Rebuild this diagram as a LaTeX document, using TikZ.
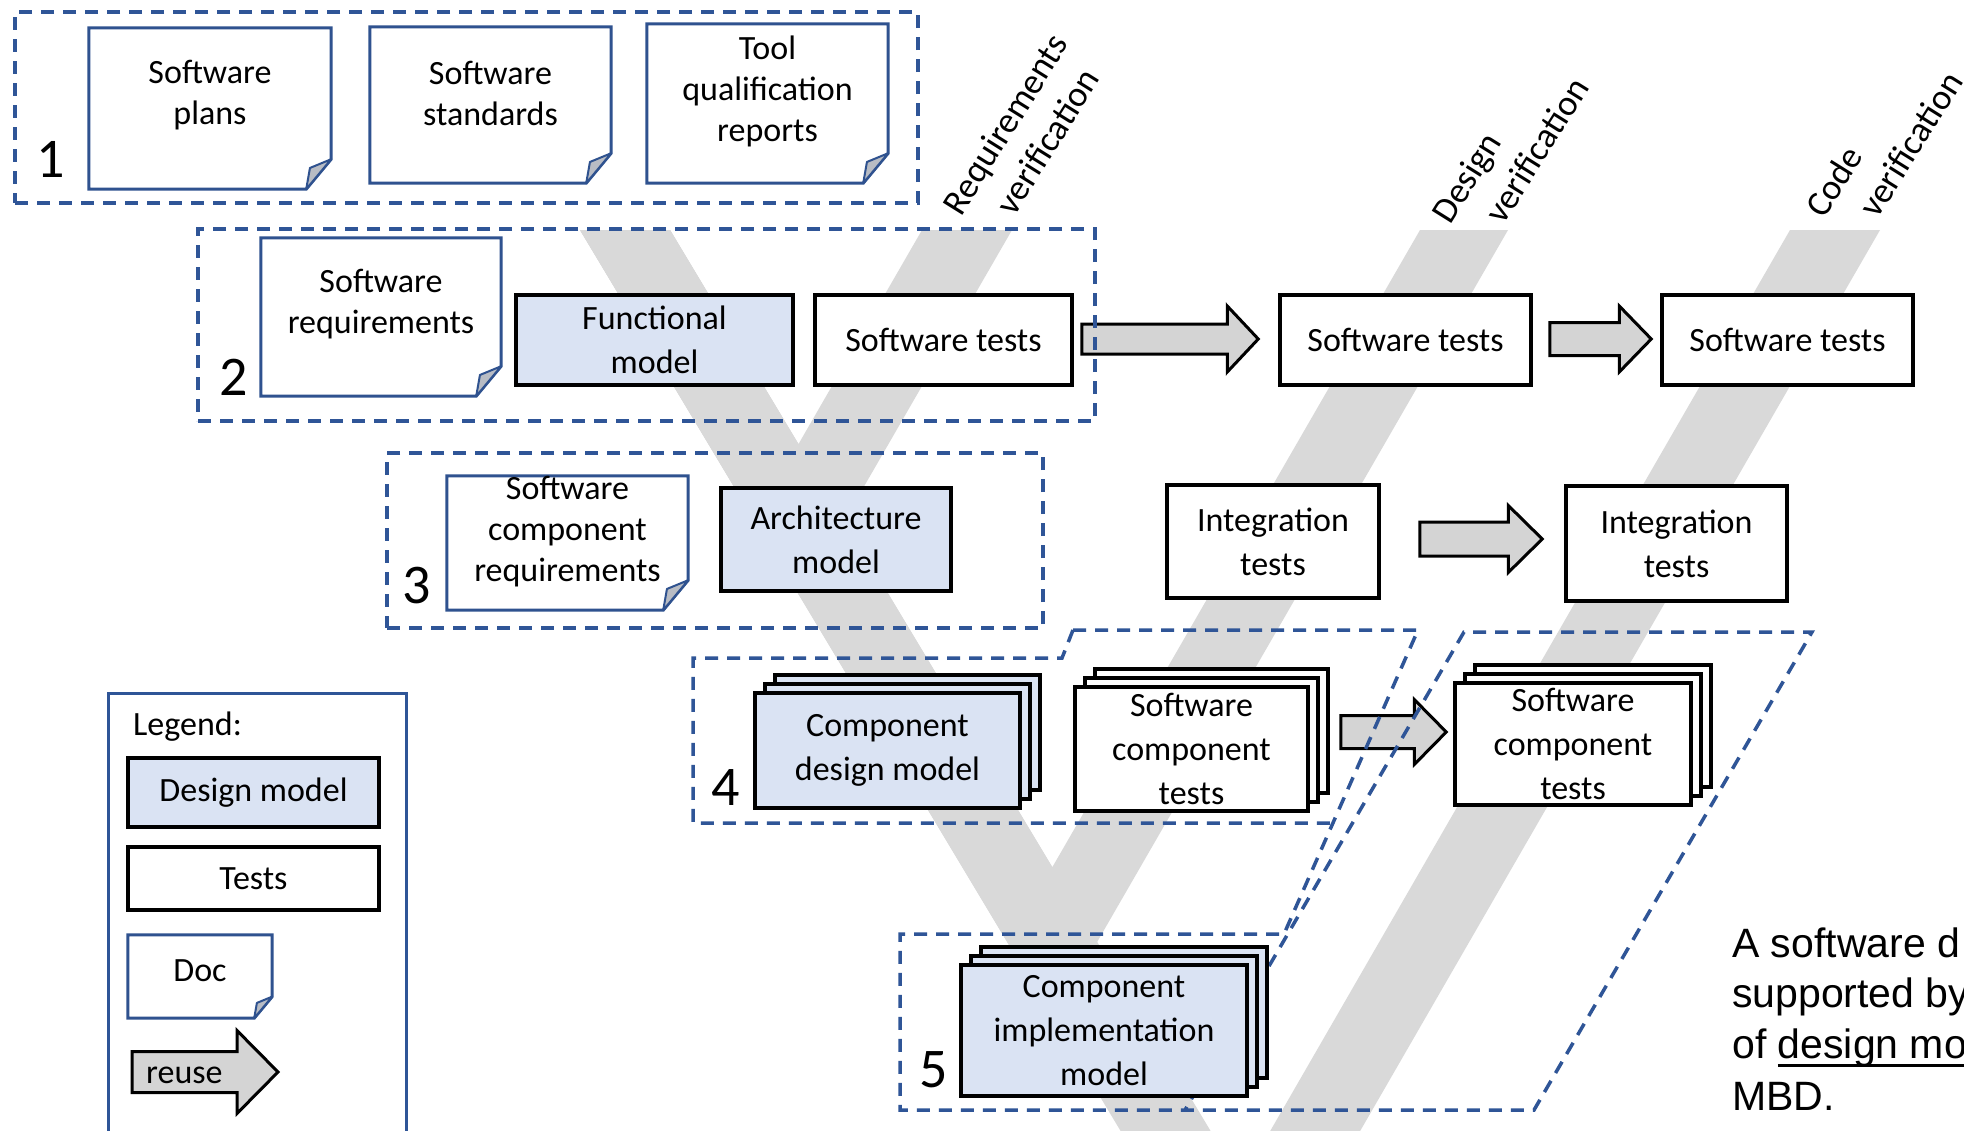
\documentclass[tikz,border=0pt]{standalone}
\usepackage{fontspec}
\setmainfont{Carlito}
\newfontfamily\arialf{Liberation Sans}
\usetikzlibrary{calc}
\pgfdeclarelayer{bg}
\pgfdeclarelayer{mid}
\pgfsetlayers{bg,mid,main}
\definecolor{dashblue}{HTML}{2F5597}
\definecolor{docblue}{HTML}{2F528F}
\definecolor{modelfill}{HTML}{DAE3F3}
\definecolor{bandgray}{HTML}{D9D9D9}
\definecolor{arrowfill}{HTML}{D4D4D4}
\definecolor{foldfill}{HTML}{B8BCC4}

\newsavebox{\ulbox}
\newcommand{\myul}[1]{\sbox{\ulbox}{#1}\rlap{\usebox{\ulbox}}\rule[-8.5pt]{\wd\ulbox}{3pt}}

\tikzset{
 boxtext/.style={font=\fontsize{34}{44}\selectfont, align=center},
 modelbox/.style={draw=black, line width=3.5pt, fill=modelfill, inner sep=0pt, boxtext},
 testbox/.style={draw=black, line width=3.5pt, fill=white, inner sep=0pt, boxtext},
 docarea/.style={inner sep=0pt},
 docline/.style={draw=docblue, line width=3pt, fill=white, line join=miter},
 foldstyle/.style={draw=docblue, line width=2pt, fill=foldfill, line join=round},
 doctext/.style={font=\fontsize{34}{41}\selectfont, align=center, inner sep=0pt},
 groupline/.style={draw=dashblue, line width=3.5pt, dash pattern=on 13pt off 9pt},
 legendbox/.style={draw=dashblue, line width=3pt},
 band/.style={fill=bandgray, draw=none},
 reusearrow/.style={draw=black, line width=3pt, fill=arrowfill, line join=miter},
 numlabel/.style={font=\fontsize{56}{60}\selectfont, inner sep=0pt, anchor=base},
 vlabel/.style={font=\fontsize{36}{45}\selectfont, align=left, rotate=58, inner sep=0pt},
 captext/.style={font=\arialf\fontsize{41}{51}\selectfont, anchor=base west, inner sep=0pt},
 plaintext/.style={font=\fontsize{34}{41}\selectfont, inner sep=0pt},
}

% name, x1, y1, x2, y2, text, fold, text lift
\newcommand{\docnode}[8]{%
 \node[docarea, minimum width={(#4-#2)*1pt}, minimum height={(#5-#3)*1pt}] (#1) at ({(#2+#4)/2},{(#3+#5)/2}) {};
 \draw[docline] (#1.north west) -- (#1.north east) -- ([yshift={1.2*#7pt}]#1.south east) -- ([xshift=-#7pt]#1.south east) -- (#1.south west) -- cycle;
 \draw[foldstyle] ([yshift={1.2*#7pt}]#1.south east) -- ([xshift=-#7pt]#1.south east) -- ([xshift={-0.85*#7pt},yshift={0.85*#7pt}]#1.south east) -- cycle;
 \node[doctext] (#1-t) at ([yshift=#8pt]#1.center) {#6};
}

% name, style, cx, cy, w, h, text
\newcommand{\stacknode}[7]{%
 \node[#2, minimum width=#5pt, minimum height=#6pt] (#1-b2) at ({#3+20},{#4-18}) {};
 \node[#2, minimum width=#5pt, minimum height=#6pt] (#1-b1) at ({#3+10},{#4-9}) {};
 \node[#2, minimum width=#5pt, minimum height=#6pt] (#1) at (#3,#4) {#7};
}

% from, to, body half height, head half height, head length
\newcommand{\blockarrow}[5]{%
 \draw[reusearrow] let \p1=(#1), \p2=(#2) in
  (\x1,\y1+#3pt) -- (\x2-#5pt,\y1+#3pt) -- (\x2-#5pt,\y1+#4pt) -- (\x2,\y1) -- (\x2-#5pt,\y1-#4pt) -- (\x2-#5pt,\y1-#3pt) -- (\x1,\y1-#3pt) -- cycle;}

\begin{document}
\begin{tikzpicture}[x=1pt,y=-1pt]
\useasboundingbox (0,0) rectangle (1964,1130);

\begin{pgfonlayer}{bg}
\fill[white] (0,0) rectangle (1964,1130);
\fill[band] (580,230) -- (670,230) -- (798.4,444.2) -- (922,230) -- (1012,230) -- (800.2,597) -- cycle;
\fill[band] (580,230) -- (670,230) -- (1052.3,867.2) -- (1420,230) -- (1508,230) -- (1053,1018.4) -- cycle;
\fill[band] (580,230) -- (670,230) -- (1241,1181.6) -- (1790,230) -- (1880,230) -- (1242.7,1334.5) -- cycle;
\end{pgfonlayer}

% ---------- documents ----------
\docnode{plans}{89}{28}{331}{189}{Software\\plans}{25}{13}
\docnode{standards}{370}{27}{611}{183}{Software\\standards}{25}{12}
\docnode{toolq}{647}{24}{888}{183}{Tool\\qualification\\reports}{25}{12}
\docnode{swreq}{261}{238}{501}{396}{Software\\requirements}{25}{13}
\docnode{scr}{447}{476}{688}{610}{Software\\component\\requirements}{25}{11}

% ---------- models and tests ----------
\node[modelbox, minimum width=277pt, minimum height=90pt] (fm) at (654.5,340) {Functional\\model};
\node[testbox, minimum width=257pt, minimum height=90pt] (st1) at (943.5,340) {Software tests};
\node[testbox, minimum width=251pt, minimum height=90pt] (st2) at (1405.5,340) {Software tests};
\node[testbox, minimum width=251pt, minimum height=90pt] (st3) at (1787.5,340) {Software tests};
\node[modelbox, minimum width=230pt, minimum height=103pt] (arch) at (836,539.5) {Architecture\\model};
\node[testbox, minimum width=212pt, minimum height=113pt] (it1) at (1273,541.5) {Integration\\tests};
\node[testbox, minimum width=221pt, minimum height=115pt] (it2) at (1676.5,543.5) {Integration\\tests};
\stacknode{cdm}{modelbox}{887.5}{750.5}{265}{115}{Component\\design model}
\stacknode{sct1}{testbox}{1191.5}{749}{233}{124}{Software\\component\\tests}
\stacknode{sct2}{testbox}{1573}{744}{236}{122}{Software\\component\\tests}
\stacknode{cim}{modelbox}{1104}{1030.5}{286}{131}{Component\\implementation\\model}

% ---------- level numbers ----------
\node[numlabel] (n1) at (51,177) {1};
\node[numlabel] (n2) at (234,395) {2};
\node[numlabel] (n3) at (417,603) {3};
\node[numlabel] (n4) at (726,805) {4};
\node[numlabel] (n5) at (934,1087) {5};

% ---------- verification labels ----------
\node[vlabel] (reqv) at (1024,136) {Requirements\\\hspace*{28pt}verification};
\node[vlabel] (desv) at (1510,150) {Design\\\hspace*{28pt}verification};
\node[vlabel] (codv) at (1884,144) {Code\\\hspace*{28pt}verification};

% ---------- legend ----------
\node[legendbox, minimum width=298pt, minimum height=447pt, inner sep=0pt] (legend) at (257,916.5) {};
\node[plaintext, anchor=base west] (legt) at (133,735) {Legend:};
\node[modelbox, minimum width=251pt, minimum height=69pt] (ldm) at (253.5,792.5) {Design model};
\node[testbox, minimum width=251pt, minimum height=63pt] (lts) at (253.5,878.5) {Tests};
\docnode{ldoc}{128}{935}{272}{1018}{Doc}{18}{6}
\coordinate (r1) at (132,1072);
\coordinate (r2) at (278,1072);
\node[plaintext, anchor=base west] (reuse) at (146,1083) {reuse};

% ---------- caption ----------
\node[captext] (cap1) at (1732,957) {A software d};
\node[captext] (cap2) at (1732,1007) {supported by};
\node[captext] (cap3) at (1732,1058) {of \myul{design mo}};
\node[captext] (cap4) at (1732,1110) {MBD.};

\begin{pgfonlayer}{mid}
% reuse arrows
\coordinate (a1s) at ($(st1.east)+(8,-1)$);
\coordinate (a1e) at ($(st2.west)+(-20,-1)$);
\blockarrow{a1s}{a1e}{15}{33}{31}
\coordinate (a2s) at ($(st2.east)+(17,-1)$);
\coordinate (a2e) at ($(st3.west)+(-9,-1)$);
\blockarrow{a2s}{a2e}{16.5}{33}{32}
\coordinate (a3s) at ($(it1.east)+(39,-2.5)$);
\coordinate (a3e) at ($(it2.west)+(-22,-4.5)$);
\blockarrow{a3s}{a3e}{17}{33.5}{34}
\coordinate (a4s) at ($(sct1.east)+(31,-17)$);
\coordinate (a4e) at ($(sct2.west)+(-7,-12)$);
\blockarrow{a4s}{a4e}{16.5}{32.5}{32}
\blockarrow{r1}{r2}{20.5}{41.5}{41}

% groups
\node[groupline, minimum width=903pt, minimum height=191pt, inner sep=0pt] (g1) at (466.5,107.5) {};
\node[groupline, minimum width=897pt, minimum height=192pt, inner sep=0pt] (g2) at (646.5,325) {};
\node[groupline, minimum width=656pt, minimum height=175pt, inner sep=0pt] (g3) at (715,540.5) {};
\draw[groupline] (1073,630) -- (1062,658) -- (693,658) -- (693,823) -- (1334,823);
\draw[groupline] (1073,630) -- (1418,630) -- (1284,934) -- (900,934) -- (900,1110) -- (1534,1110) -- (1812,632) -- (1464,632) -- (1185,1110);
\end{pgfonlayer}
\end{tikzpicture}
\end{document}
